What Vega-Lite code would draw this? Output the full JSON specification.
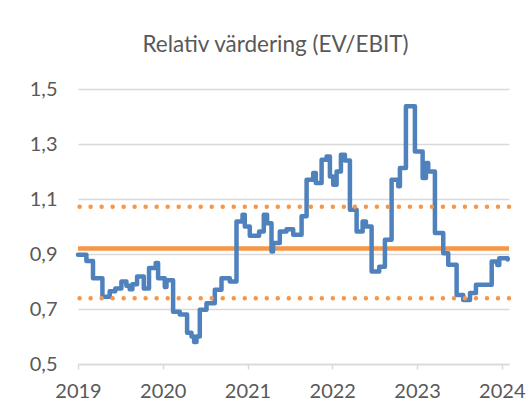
{
  "$schema": "https://vega.github.io/schema/vega-lite/v6.json",
  "width": 431,
  "height": 275,
  "autosize": {"type": "none"},
  "padding": {"left": 78, "top": 89, "right": 19, "bottom": 50},
  "background": "white",
  "config": {
    "view": {"stroke": null},
    "font": "Lato"
  },
  "title": {
    "text": "Relativ värdering (EV/EBIT)",
    "anchor": "middle",
    "dx": -18,
    "dy": 29,
    "fontSize": 22.5,
    "font": "Lato",
    "fontWeight": "normal",
    "color": "#595959",
    "baseline": "alphabetic",
    "offset": 34
  },
  "datasets": {
    "series": [
      {"t": 2019.0, "v": 0.897},
      {"t": 2019.099, "v": 0.875},
      {"t": 2019.177, "v": 0.812},
      {"t": 2019.288, "v": 0.745},
      {"t": 2019.374, "v": 0.765},
      {"t": 2019.44, "v": 0.775},
      {"t": 2019.512, "v": 0.80},
      {"t": 2019.571, "v": 0.785},
      {"t": 2019.610, "v": 0.772},
      {"t": 2019.642, "v": 0.79},
      {"t": 2019.697, "v": 0.818},
      {"t": 2019.776, "v": 0.775},
      {"t": 2019.838, "v": 0.849},
      {"t": 2019.917, "v": 0.867},
      {"t": 2019.945, "v": 0.812},
      {"t": 2020.024, "v": 0.78},
      {"t": 2020.044, "v": 0.805},
      {"t": 2020.122, "v": 0.69},
      {"t": 2020.201, "v": 0.68},
      {"t": 2020.287, "v": 0.614},
      {"t": 2020.339, "v": 0.60},
      {"t": 2020.370, "v": 0.58},
      {"t": 2020.398, "v": 0.60},
      {"t": 2020.437, "v": 0.697},
      {"t": 2020.516, "v": 0.721},
      {"t": 2020.614, "v": 0.77},
      {"t": 2020.693, "v": 0.812},
      {"t": 2020.791, "v": 0.80},
      {"t": 2020.870, "v": 1.018},
      {"t": 2020.941, "v": 1.043},
      {"t": 2020.968, "v": 1.0},
      {"t": 2021.027, "v": 0.966},
      {"t": 2021.137, "v": 0.982},
      {"t": 2021.192, "v": 1.043},
      {"t": 2021.231, "v": 1.012},
      {"t": 2021.283, "v": 0.909},
      {"t": 2021.302, "v": 0.94},
      {"t": 2021.381, "v": 0.982},
      {"t": 2021.460, "v": 0.99},
      {"t": 2021.539, "v": 0.97},
      {"t": 2021.638, "v": 1.037},
      {"t": 2021.697, "v": 1.17},
      {"t": 2021.775, "v": 1.195},
      {"t": 2021.806, "v": 1.158},
      {"t": 2021.874, "v": 1.243},
      {"t": 2021.933, "v": 1.255},
      {"t": 2021.972, "v": 1.182},
      {"t": 2022.011, "v": 1.152},
      {"t": 2022.051, "v": 1.2},
      {"t": 2022.102, "v": 1.261},
      {"t": 2022.149, "v": 1.24},
      {"t": 2022.208, "v": 1.061},
      {"t": 2022.287, "v": 0.982},
      {"t": 2022.358, "v": 1.018},
      {"t": 2022.397, "v": 1.0},
      {"t": 2022.464, "v": 0.836},
      {"t": 2022.554, "v": 0.854},
      {"t": 2022.621, "v": 0.952},
      {"t": 2022.700, "v": 1.17},
      {"t": 2022.778, "v": 1.146},
      {"t": 2022.798, "v": 1.213},
      {"t": 2022.869, "v": 1.437},
      {"t": 2022.975, "v": 1.273},
      {"t": 2023.066, "v": 1.176},
      {"t": 2023.105, "v": 1.231},
      {"t": 2023.132, "v": 1.2},
      {"t": 2023.211, "v": 0.976},
      {"t": 2023.309, "v": 0.903},
      {"t": 2023.368, "v": 0.861},
      {"t": 2023.467, "v": 0.751},
      {"t": 2023.545, "v": 0.733},
      {"t": 2023.625, "v": 0.758},
      {"t": 2023.695, "v": 0.788},
      {"t": 2023.881, "v": 0.873},
      {"t": 2023.947, "v": 0.86},
      {"t": 2023.970, "v": 0.885},
      {"t": 2024.070, "v": 0.88}
    ],
    "mean": [{"v": 0.92}],
    "bands": [{"v": 1.072}, {"v": 0.739}]
  },
  "layer": [
    {
      "data": {"name": "mean"},
      "mark": {"type": "rule", "color": "#F79646", "strokeWidth": 4.5},
      "encoding": {
        "y": {"field": "v", "type": "quantitative"}
      }
    },
    {
      "data": {"name": "series"},
      "mark": {"type": "line", "interpolate": "step-after", "color": "#4F81BD", "strokeWidth": 4.5, "strokeJoin": "round", "strokeCap": "round"},
      "encoding": {
        "x": {
          "field": "t",
          "type": "quantitative",
          "scale": {"domain": [2019, 2024.085], "nice": false, "zero": false},
          "axis": {
            "title": null,
            "values": [2019, 2020, 2021, 2022, 2023, 2024],
            "format": "d",
            "grid": false,
            "domainColor": "#d9d9d9",
            "domainWidth": 1.5,
            "tickColor": "#d9d9d9",
            "tickWidth": 1.5,
            "tickSize": 5,
            "labelFont": "Lato",
            "labelFontSize": 20,
            "labelColor": "#595959",
            "labelPadding": 12,
            "labelFlush": false,
            "labelDx": 3
          }
        },
        "y": {
          "field": "v",
          "type": "quantitative",
          "scale": {"domain": [0.5, 1.5], "nice": false, "zero": false},
          "axis": {
            "title": null,
            "values": [0.5, 0.7, 0.9, 1.1, 1.3, 1.5],
            "labelExpr": "replace(format(datum.value, '.1f'), '.', ',')",
            "domain": false,
            "ticks": false,
            "grid": true,
            "gridColor": "#d9d9d9",
            "gridWidth": 1.5,
            "labelFont": "Lato",
            "labelFontSize": 20,
            "labelColor": "#595959",
            "labelPadding": 21
          }
        }
      }
    },
    {
      "data": {"name": "bands"},
      "mark": {"type": "rule", "color": "#F79646", "strokeWidth": 4.5, "strokeCap": "round", "strokeDash": [0.01, 11]},
      "encoding": {
        "y": {"field": "v", "type": "quantitative"}
      }
    }
  ]
}
